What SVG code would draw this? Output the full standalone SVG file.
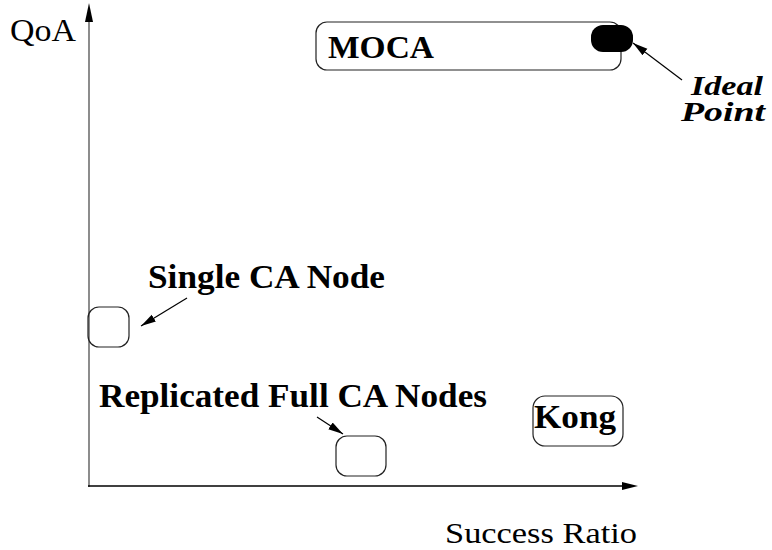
<svg xmlns="http://www.w3.org/2000/svg" width="772" height="550" viewBox="0 0 772 550">
<style>
.box{fill:none;stroke:#222;stroke-width:1.2}
.lbl{font-family:"Liberation Serif","Times New Roman",serif;font-weight:bold;fill:#000}
.ax{font-family:"Liberation Serif","Times New Roman",serif;fill:#000}
.it{font-family:"Liberation Serif","Times New Roman",serif;font-weight:bold;font-style:italic;fill:#000}
.ptr{stroke:#000;stroke-width:1.2;fill:none}
</style>
<defs>
<marker id="ah" markerWidth="16" markerHeight="10" refX="15" refY="5" orient="auto" markerUnits="userSpaceOnUse">
<path d="M0,1 L15,5 L0,9 Z" fill="#000"/>
</marker>
</defs>
<g id="axes">
<line x1="89" y1="487" x2="89" y2="20" stroke="#808080" stroke-width="1.8"/>
<path d="M89,3 L85,22 L93,22 Z" fill="#000"/>
<line x1="88" y1="486" x2="624" y2="486" stroke="#000" stroke-width="1.5"/>
<path d="M638,486 L622,482 L622,490 Z" fill="#000"/>
<text class="ax" x="10" y="41" font-size="31" textLength="66" lengthAdjust="spacingAndGlyphs">QoA</text>
<text class="ax" x="445" y="543" font-size="30" textLength="192" lengthAdjust="spacingAndGlyphs">Success Ratio</text>
</g>
<g id="moca">
<rect class="box" x="316" y="22" width="305" height="48" rx="11"/>
<text class="lbl" x="328" y="58" font-size="32" textLength="106" lengthAdjust="spacingAndGlyphs">MOCA</text>
</g>
<g id="ideal-point">
<rect x="591" y="25" width="42" height="27" rx="12" fill="#000"/>
<text class="it" x="691" y="95" font-size="28" textLength="72" lengthAdjust="spacingAndGlyphs">Ideal</text>
<text class="it" x="681" y="121" font-size="28" textLength="84" lengthAdjust="spacingAndGlyphs">Point</text>
</g>
<g id="single-ca">
<rect class="box" x="88" y="307" width="41" height="40" rx="11"/>
<text class="lbl" x="148" y="288" font-size="33" textLength="237" lengthAdjust="spacingAndGlyphs">Single CA Node</text>
</g>
<g id="replicated">
<rect class="box" x="336" y="436" width="50" height="40" rx="11"/>
<text class="lbl" x="99" y="407" font-size="33" textLength="388" lengthAdjust="spacingAndGlyphs">Replicated Full CA Nodes</text>
</g>
<g id="kong">
<rect class="box" x="533" y="396" width="90" height="50" rx="12"/>
<text class="lbl" x="534" y="428" font-size="33" textLength="82" lengthAdjust="spacingAndGlyphs">Kong</text>
</g>
<g id="connectors">
<line class="ptr" x1="682" y1="80" x2="633" y2="43" marker-end="url(#ah)"/>
<line class="ptr" x1="187" y1="298" x2="141" y2="326" marker-end="url(#ah)"/>
<line class="ptr" x1="317" y1="417" x2="343" y2="434" marker-end="url(#ah)"/>
</g>
</svg>
